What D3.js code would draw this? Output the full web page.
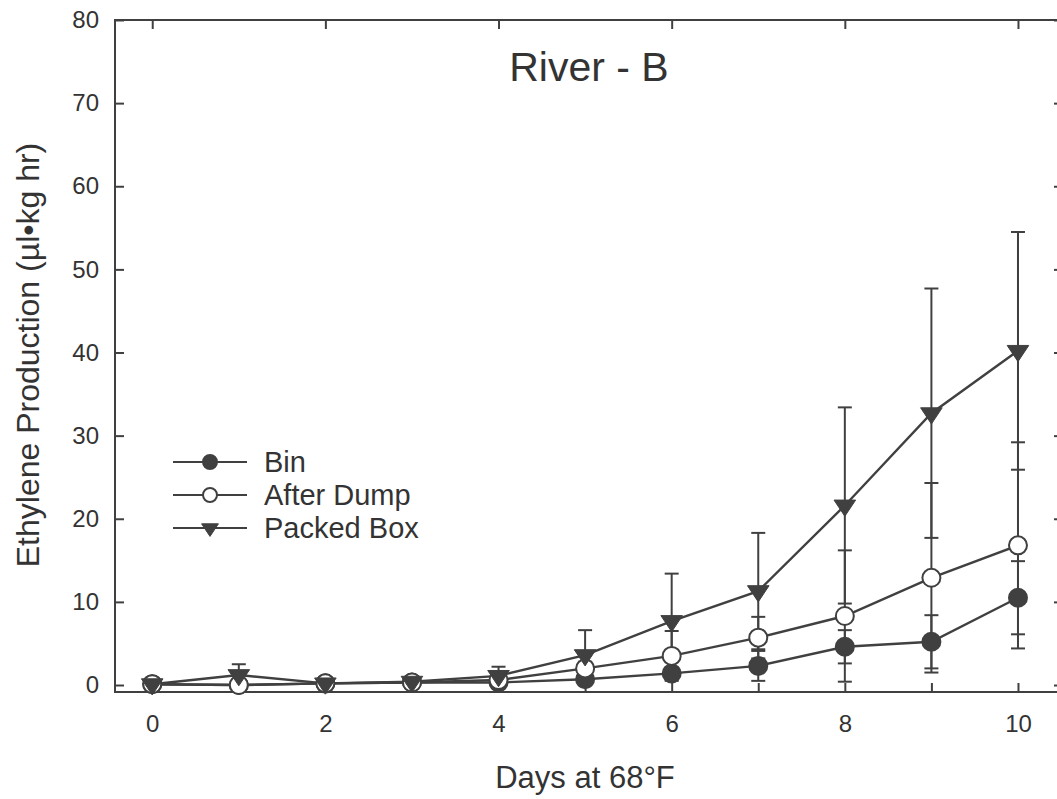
<!DOCTYPE html>
<html>
<head>
<meta charset="utf-8">
<script src="https://cdn.jsdelivr.net/npm/d3@7"></script>
<style>
  body { margin: 0; background: #fff; }
  text { font-family: "Liberation Sans", Arial, sans-serif; fill: #333; }
</style>
</head>
<body>
<div id="chart"></div>
<script>
// data
var days = [0, 1, 2, 3, 4, 5, 6, 7, 8, 9, 10];
var binMean = [0.1, 0.0, 0.2, 0.3, 0.3, 0.7, 1.4, 2.3, 4.6, 5.2, 10.5];
var binErr = [0.1, 0.1, 0.1, 0.1, 0.2, 0.3, 0.6, 1.8, 2.0, 3.2, 4.4];
var dumpMean = [0.1, 0.0, 0.2, 0.3, 0.6, 2.0, 3.5, 5.7, 8.3, 12.9, 16.8];
var dumpErr = [0.1, 0.1, 0.1, 0.1, 0.3, 0.8, 3.0, 2.5, 7.9, 11.4, 12.4];
var boxMean = [0.1, 1.2, 0.2, 0.4, 1.1, 3.6, 7.7, 11.3, 21.6, 32.7, 40.2];
var boxErr = [0.2, 1.3, 0.1, 0.2, 1.1, 3.0, 5.7, 7.0, 11.8, 15.0, 14.3];
var yTicks = [0, 10, 20, 30, 40, 50, 60, 70, 80];
var seriesNames = ["Bin", "After Dump", "Packed Box"];

var svgWidth = 1057;
var svgHeight = 799;
var ink = "#404040";

var svg = d3.select("#chart")
  .append("svg")
  .attr("width", svgWidth)
  .attr("height", svgHeight);

var plotLeft = 115, plotRight = 1063, plotTop = 20, plotBottom = 692;

var xScale = d3.scaleLinear().domain([-0.43, 10.52]).range([plotLeft, plotRight]);
var yScale = d3.scaleLinear().domain([-0.84, 80]).range([plotBottom, plotTop]);

// frame
svg.append("rect")
  .attr("x", plotLeft).attr("y", plotTop)
  .attr("width", plotRight - plotLeft).attr("height", plotBottom - plotTop)
  .attr("fill", "none").attr("stroke", ink).attr("stroke-width", 2);

// axes (inward ticks)
var bottomAxis = d3.axisBottom(xScale).tickValues(days).tickSize(-9).tickPadding(23)
  .tickFormat(d => d % 2 === 0 ? d : "");
var topAxis = d3.axisTop(xScale).tickValues([0, 2, 4, 6, 8, 10]).tickSize(-9).tickFormat("");
var leftAxis = d3.axisLeft(yScale).tickValues(yTicks).tickSize(-9).tickPadding(16);
var rightAxis = d3.axisRight(yScale).tickValues(yTicks).tickSize(-9).tickFormat("");

function styleAxis(g) {
  g.select(".domain").remove();
  g.attr("font-size", 24);
  g.selectAll(".tick line").attr("stroke", ink).attr("stroke-width", 2);
  g.selectAll(".tick text").attr("fill", "#333");
}

svg.append("g").attr("transform", `translate(0, ${plotBottom})`).call(bottomAxis).call(styleAxis);
svg.append("g").attr("transform", `translate(0, ${plotTop})`).call(topAxis).call(styleAxis);
svg.append("g").attr("transform", `translate(${plotLeft}, 0)`).call(leftAxis).call(styleAxis);
svg.append("g").attr("transform", `translate(${plotRight}, 0)`).call(rightAxis).call(styleAxis);

var series = [
  { name: seriesNames[0], mean: binMean, err: binErr, shape: "filled" },
  { name: seriesNames[1], mean: dumpMean, err: dumpErr, shape: "open" },
  { name: seriesNames[2], mean: boxMean, err: boxErr, shape: "tri" }
];

var line = d3.line()
  .x((d, i) => xScale(days[i]))
  .y(d => yScale(d));

// connecting lines
series.forEach(function(s) {
  svg.append("path")
    .datum(s.mean)
    .attr("d", line)
    .attr("fill", "none")
    .attr("stroke", ink)
    .attr("stroke-width", 2.4);
});

// error bars
series.forEach(function(s) {
  var g = svg.append("g").attr("stroke", ink).attr("stroke-width", 2);
  days.forEach(function(d, i) {
    var x = xScale(d);
    var y1 = yScale(s.mean[i] + s.err[i]);
    var y0 = yScale(Math.max(s.mean[i] - s.err[i], -0.8));
    g.append("line").attr("x1", x).attr("x2", x).attr("y1", y1).attr("y2", y0);
    g.append("line").attr("x1", x - 7).attr("x2", x + 7).attr("y1", y1).attr("y2", y1);
    if (s.mean[i] - s.err[i] > -0.8) {
      g.append("line").attr("x1", x - 7).attr("x2", x + 7).attr("y1", y0).attr("y2", y0);
    }
  });
});

function drawMarker(g, shape, x, y, size) {
  if (shape === "tri") {
    var w = size * 1.2, h = size;
    g.append("path")
      .attr("d", `M${x - w},${y - h * 0.6} L${x + w},${y - h * 0.6} L${x},${y + h * 1.2} Z`)
      .attr("fill", ink).attr("stroke", ink).attr("stroke-width", 1);
  } else {
    g.append("circle")
      .attr("cx", x).attr("cy", y).attr("r", size)
      .attr("fill", shape === "filled" ? ink : "#fff")
      .attr("stroke", ink).attr("stroke-width", 2);
  }
}

// markers
series.forEach(function(s) {
  var g = svg.append("g");
  s.mean.forEach(function(v, i) {
    drawMarker(g, s.shape, xScale(days[i]), yScale(v), 9);
  });
});

// legend
var legend = svg.append("g");
series.forEach(function(s, i) {
  var ly = 462 + i * 33;
  legend.append("line")
    .attr("x1", 173).attr("x2", 247).attr("y1", ly).attr("y2", ly)
    .attr("stroke", ink).attr("stroke-width", 2);
  drawMarker(legend, s.shape, 210, ly, 7);
  legend.append("text")
    .attr("x", 264).attr("y", ly + 10)
    .attr("font-size", "29px")
    .text(s.name);
});

// title
svg.append("text")
  .attr("x", 589).attr("y", 81)
  .attr("text-anchor", "middle")
  .attr("font-size", "41px")
  .text("River - B");

// axis labels
svg.append("text")
  .attr("x", 585).attr("y", 788)
  .attr("text-anchor", "middle")
  .attr("font-size", "31px")
  .text("Days at 68°F");

svg.append("text")
  .attr("transform", "translate(39, 355) rotate(-90)")
  .attr("text-anchor", "middle")
  .attr("font-size", "32px")
  .text("Ethylene Production (µl•kg hr)");
</script>
</body>
</html>
